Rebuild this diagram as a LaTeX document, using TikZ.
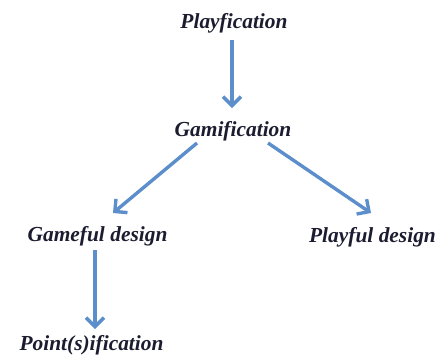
\documentclass[tikz,border=0pt]{standalone}
\usepackage{fontspec}
\setmainfont{Liberation Serif}
\usetikzlibrary{arrows.meta}
\definecolor{arrowblue}{HTML}{5B8ECB}
\definecolor{txt}{HTML}{1C1C30}
\tikzset{
  lbl/.style={font=\bfseries\itshape\fontsize{21.5}{24}\selectfont, text=txt, inner sep=0pt, anchor=base},
  conn/.style={draw=arrowblue, line width=3.4pt, -{Straight Barb[length=9pt,width=18pt,line width=3.4pt]}}
}
\begin{document}
\begin{tikzpicture}[x=1bp,y=-1bp]
\useasboundingbox (0,0) rectangle (441,359);
\node[lbl] (play) at (234,28.5) {Playfication};
\node[lbl] (gam) at (233,136) {Gamification};
\node[lbl] (gameful) at (97.5,241.5) {Gameful design};
\node[lbl] (playful) at (372.5,242) {Playful design};
\node[lbl] (point) at (91.5,350) {Point(s)ification};
\coordinate (a1s) at (232,40); \coordinate (a1e) at (232,108);
\coordinate (a2s) at (197,143); \coordinate (a2e) at (113,213);
\coordinate (a3s) at (268,143); \coordinate (a3e) at (371,213);
\coordinate (a4s) at (95,250); \coordinate (a4e) at (95,329);
\draw[conn] (a1s) -- (a1e);
\draw[conn] (a2s) -- (a2e);
\draw[conn] (a3s) -- (a3e);
\draw[conn] (a4s) -- (a4e);
\end{tikzpicture}
\end{document}
